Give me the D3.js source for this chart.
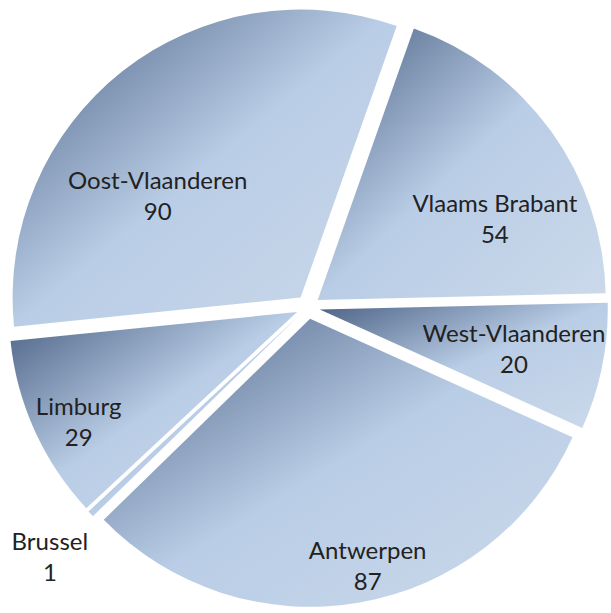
<!DOCTYPE html>
<html lang="nl">
<head>
  <meta charset="UTF-8">
  <title>Verdeling per provincie</title>
  <script src="https://d3js.org/d3.v7.min.js"></script>
  <style>
    body {
      margin: 0;
      background: #fff;
    }
    .label {
      font-family: Lato, "Noto Sans", sans-serif;
      font-size: 24px;
      fill: #222;
    }
  </style>
</head>
<body>
  <svg width="611" height="613"></svg>

  <script>
    // slices in drawing order, clockwise from the top-right
    const regions = ["Vlaams Brabant", "West-Vlaanderen", "Antwerpen", "Brussel", "Limburg", "Oost-Vlaanderen"];
    const counts = [54, 20, 87, 1, 29, 90];

    const svg = d3.select("svg");
    const cx = 308, cy = 307;
    const radius = 288;
    const explode = 12;
    const startDeg = 19.5;

    // where Excel put each label: fraction of radius, and angle nudge (deg)
    const labelPlace = {
      "Vlaams Brabant": [0.677, 11.2],
      "West-Vlaanderen": [0.688, 0],
      "Antwerpen": [0.878, -3.2],
      "Brussel": [1.206, -0.5],
      "Limburg": [0.848, -2.2],
      "Oost-Vlaanderen": [0.61, -16.3]
    };

    const data = regions.map((r, i) => ({ region: r, count: counts[i] }));

    const start = startDeg * Math.PI / 180;
    const pie = d3.pie()
      .sort(null)
      .value(d => d.count)
      .startAngle(start)
      .endAngle(start + 2 * Math.PI);

    const arc = d3.arc().innerRadius(0).outerRadius(radius);

    const defs = svg.append("defs");
    const grad = defs.append("linearGradient")
      .attr("id", "sliceFill")
      .attr("x1", 0).attr("y1", 0)
      .attr("x2", 1).attr("y2", 1);
    grad.append("stop").attr("offset", "0%").attr("stop-color", "#4b6184");
    grad.append("stop").attr("offset", "50%").attr("stop-color", "#b9cde6");
    grad.append("stop").attr("offset", "100%").attr("stop-color", "#cbd9ea");

    const root = svg.append("g").attr("transform", `translate(${cx},${cy})`);

    const arcs = pie(data);

    const slices = root.selectAll("g.slice")
      .data(arcs)
      .join("g")
      .attr("class", "slice")
      .attr("transform", d => {
        const mid = (d.startAngle + d.endAngle) / 2;
        return `translate(${explode * Math.sin(mid)},${-explode * Math.cos(mid)})`;
      });

    slices.append("path")
      .attr("d", arc)
      .attr("fill", "url(#sliceFill)");

    const lineGap = 31;
    const labels = slices.append("text")
      .attr("class", "label")
      .attr("text-anchor", "middle")
      .attr("transform", d => {
        const p = labelPlace[d.data.region];
        const a = (d.startAngle + d.endAngle) / 2 + p[1] * Math.PI / 180;
        const r = p[0] * radius;
        return `translate(${r * Math.sin(a)},${-r * Math.cos(a)})`;
      });

    labels.append("tspan")
      .attr("x", 0)
      .attr("y", -6.5)
      .text(d => d.data.region);

    labels.append("tspan")
      .attr("x", 0)
      .attr("y", -6.5 + lineGap)
      .text(d => d.data.count);
  </script>
</body>
</html>
